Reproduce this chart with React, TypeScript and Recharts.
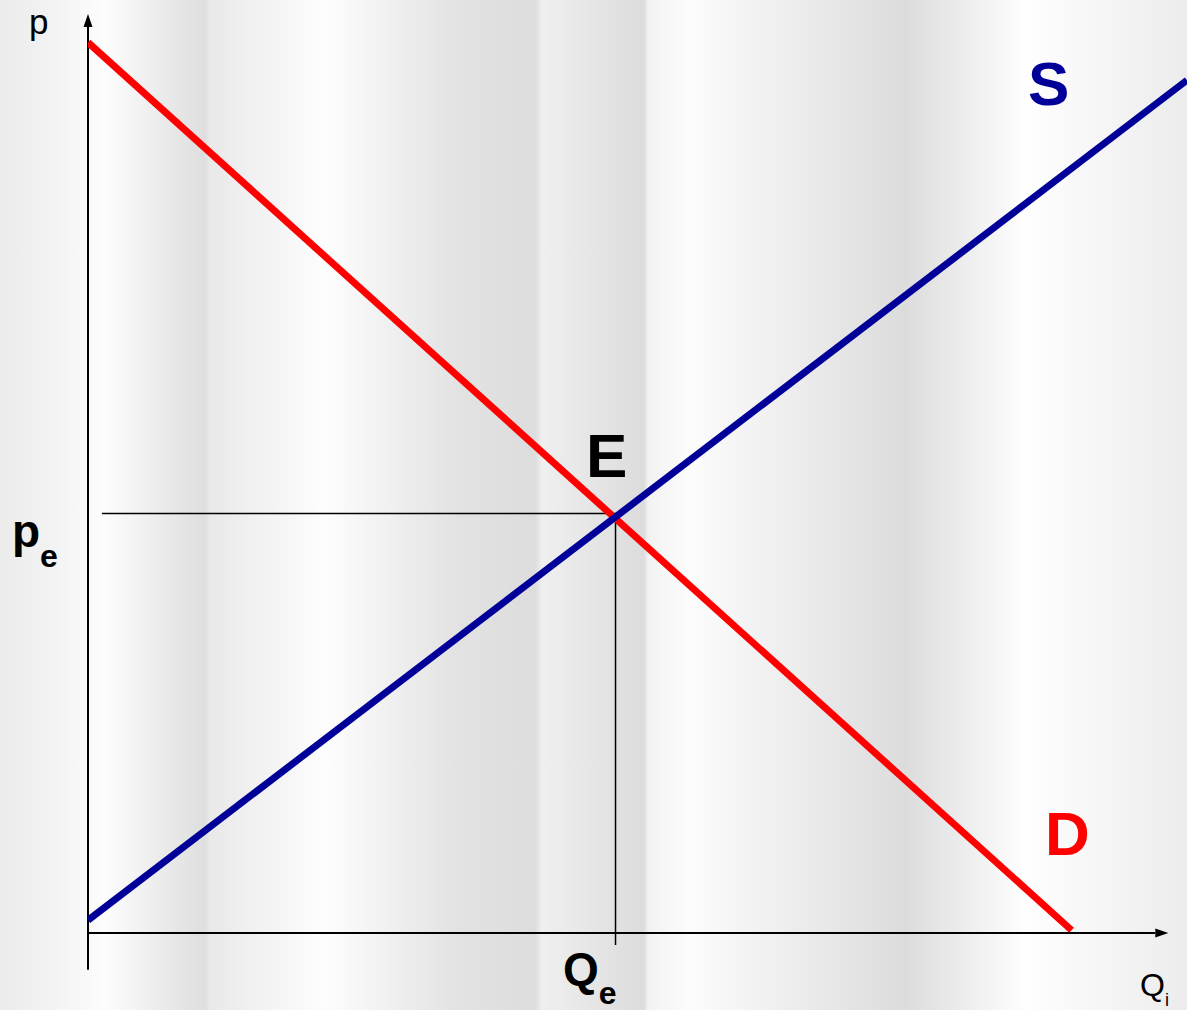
import { LineChart, Line, XAxis, YAxis, ReferenceLine } from 'recharts';

// demand and supply curves (quantity q, price p)
const demand = [
  { q: 0, p: 96.8 },
  { q: 89.5, p: 0.3 },
];
const supply = [
  { q: 0, p: 1.4 },
  { q: 100, p: 92.7 },
];

const Qe = 48;
const pe = 45.6;
const pCross = 45.3;

const FONT = '"Liberation Sans", Arial, sans-serif';
const BLUE = '#000099';
const RED = '#ff0000';

const BG =
  'linear-gradient(to right, #ebebeb 0px, #f4f4f4 60px, #fdfdfd 105px, #dedede 205px, #e9e9e9 210px, #fdfdfd 325px, #e2e2e2 460px, #dddddd 535px, #efefef 542px, #e4e4e4 600px, #dcdcdc 644px, #f2f2f2 648px, #fcfcfc 690px, #dcdcdc 905px, #fefefe 1025px, #ececec 1187px)';

const ArrowLine = (props: any) => {
  const { x1, y1, x2, y2 } = props;
  const dx = x2 - x1;
  const dy = y2 - y1;
  const len = Math.sqrt(dx * dx + dy * dy) || 1;
  const ux = dx / len;
  const uy = dy / len;
  const hl = 13;
  const hw = 4.5;
  const bx = x2 - ux * hl;
  const by = y2 - uy * hl;
  const pts = `${x2},${y2} ${bx - uy * hw},${by + ux * hw} ${bx + uy * hw},${by - ux * hw}`;
  return (
    <g>
      <line x1={x1} y1={y1} x2={bx} y2={by} stroke="#000" strokeWidth={2} />
      <polygon points={pts} fill="#000" />
    </g>
  );
};

const App = () => {
  return (
    <div style={{ position: 'absolute', left: 0, top: 0, width: 1187, height: 1010, background: BG, overflow: 'hidden' }}>
      <LineChart width={1187} height={1010} margin={{ top: 13, right: 0, bottom: 77, left: 88 }}>
        <XAxis type="number" dataKey="q" domain={[0, 100]} hide allowDataOverflow />
        <YAxis type="number" dataKey="p" domain={[0, 100]} hide allowDataOverflow />
        <ReferenceLine
          segment={[{ x: 0, y: -4 }, { x: 0, y: 99.9 }]}
          ifOverflow="visible"
          shape={ArrowLine}
        />
        <ReferenceLine
          segment={[{ x: 0, y: 0 }, { x: 98.3, y: 0 }]}
          ifOverflow="visible"
          shape={ArrowLine}
        />
        <ReferenceLine
          segment={[{ x: 1.27, y: pe }, { x: Qe, y: pe }]}
          stroke="#000"
          strokeWidth={1.5}
          ifOverflow="visible"
        />
        <ReferenceLine
          segment={[{ x: Qe, y: pCross }, { x: Qe, y: -1.3 }]}
          stroke="#000"
          strokeWidth={1.5}
          ifOverflow="visible"
        />
        <Line
          data={demand}
          dataKey="p"
          stroke={RED}
          strokeWidth={7}
          dot={false}
          activeDot={false}
          isAnimationActive={false}
          type="linear"
        />
        <Line
          data={supply}
          dataKey="p"
          stroke={BLUE}
          strokeWidth={7}
          dot={false}
          activeDot={false}
          isAnimationActive={false}
          type="linear"
        />
        <g fontFamily={FONT}>
          <text x={29} y={34} fontSize={35} fill="#000">p</text>
          <text x={1140} y={996} fontSize={32} fill="#000">
            Q<tspan fontSize={18} dy={10}>i</tspan>
          </text>
          <text x={12} y={547} fontSize={46} fontWeight="bold" fill="#000">
            p<tspan fontSize={32} dy={20}>e</tspan>
          </text>
          <text x={563} y={985} fontSize={46} fontWeight="bold" fill="#000">
            Q<tspan fontSize={32} dy={19}>e</tspan>
          </text>
          <text x={586} y={477} fontSize={62} fontWeight="bold" fill="#000">E</text>
          <text x={1028} y={105} fontSize={62} fontWeight="bold" fill={BLUE}>S</text>
          <text x={1045} y={855} fontSize={62} fontWeight="bold" fill={RED}>D</text>
        </g>
      </LineChart>
    </div>
  );
};

export default App;
